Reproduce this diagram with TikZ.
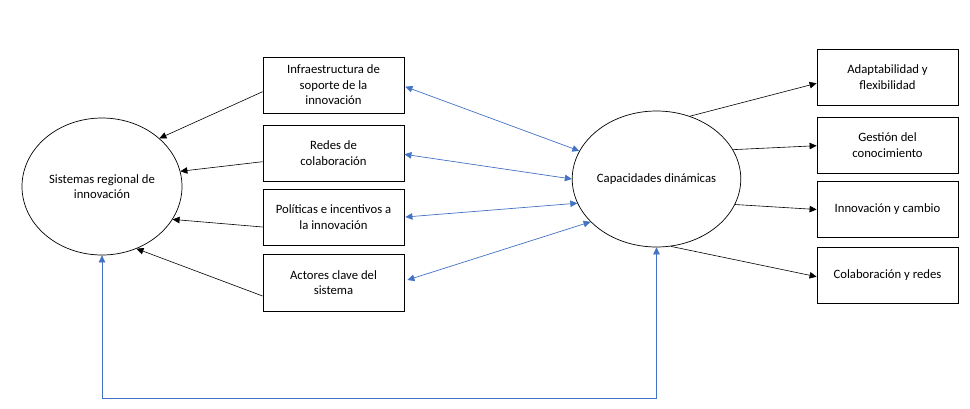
\documentclass[tikz,border=0pt]{standalone}
\usepackage{fontspec}
\setmainfont{Carlito}
\usetikzlibrary{shapes.geometric,arrows.meta,calc}
\definecolor{bluearrow}{HTML}{4472C4}
\begin{document}
\begin{tikzpicture}[x=1pt,y=-1pt,
 txt/.style={font=\fontsize{12.7}{15.5}\selectfont, align=center},
 box/.style={draw, line width=0.8pt, minimum width=141pt, minimum height=56pt, inner sep=0pt, txt},
 oval/.style={draw, ellipse, line width=0.7pt, inner sep=0pt, txt},
 blk/.style={draw=black, line width=0.6pt, -{Triangle[length=7pt,width=6.5pt]}},
 blu/.style={draw=bluearrow, line width=0.7pt, {Triangle[length=7pt,width=6.5pt]}-{Triangle[length=7pt,width=6.5pt]}},
]
\useasboundingbox[fill=white] (0,0) rectangle (970,408);

\node[oval, minimum width=160pt, minimum height=137pt] (L) at (102,186.5) {Sistemas regional de\\innovación};
\node[oval, minimum width=159pt, minimum height=136pt] (R) at (656.5,179) {Capacidades dinámicas};

\node[box] (b1) at (333.5,85) {Infraestructura de\\soporte de la\\innovación};
\node[box] (b2) at (333.5,153) {Redes de\\colaboración};
\node[box] (b3) at (333.5,217) {Políticas e incentivos a\\la innovación};
\node[box, minimum height=57pt] (b4) at (333.5,282.5) {Actores clave del\\sistema};

\node[box] (r1) at (887.5,77) {Adaptabilidad y\\flexibilidad};
\node[box] (r2) at (887.5,145) {Gestión del\\conocimiento};
\node[box] (r3) at (887.5,209.5) {Innovación y cambio};
\node[box] (r4) at (887.5,275) {Colaboración y redes};

\draw[blk] ($(b1.west)+(0,6.7)$) -- (L.40);
\draw[blk] ($(b2.west)+(0,8.7)$) -- (L.11);
\draw[blk] ($(b3.west)+(0,10)$) -- (L.-25);
\draw[blk] ($(b4.west)+(0,13.5)$) -- (L.-61.5);

\draw[blu] ($(b1.east)+(1,1.7)$) -- (R.160);
\draw[blu] ($(b2.east)+(0,1.3)$) -- (R.180);
\draw[blu] ($(b3.east)+(1,0)$) -- (R.197);
\draw[blu] ($(b4.east)+(3,-2.5)$) -- (R.213.5);

\draw[blk] (R.62) -- ($(r1.west)+(0,6.3)$);
\draw[blk] (R.21.7) -- ($(r2.west)+(0,0.7)$);
\draw[blk] (R.-18.8) -- (r3.west);
\draw[blk] (R.-78.7) -- ($(r4.west)+(0,1.7)$);

\coordinate (fl) at (102,398);
\coordinate (fr) at (656.5,398);
\draw[blu] (L.south) -- (fl) -- (fr) -- (R.south);
\end{tikzpicture}
\end{document}
